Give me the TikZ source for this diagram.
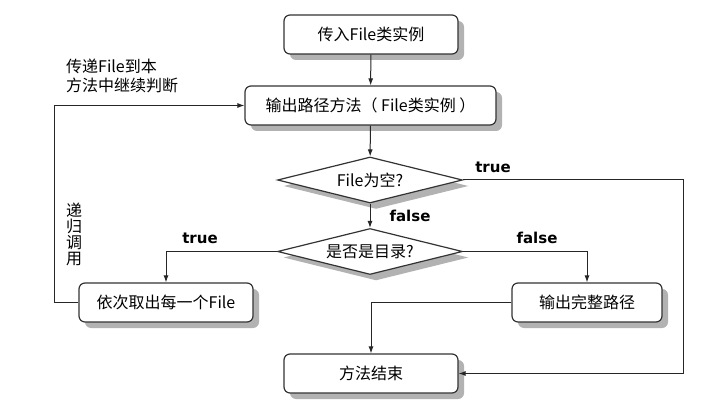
\documentclass[tikz,border=0pt]{standalone}
\usepackage{fontspec}
\setmainfont{Noto Sans CJK SC}
\newfontfamily\lblfont{DejaVu Sans}
\usetikzlibrary{shapes.geometric,shadows,arrows.meta}
\tikzset{
  shd/.style={drop shadow={shadow xshift=6pt,shadow yshift=-6pt,fill=black!30,opacity=1}},
  box/.style={draw=black!80,line width=1.2pt,rounded corners=6pt,fill=white,
    minimum height=39pt,inner sep=0pt,shd,font=\fontsize{16}{18}\selectfont},
  dec/.style={diamond,draw=black!80,line width=1.2pt,fill=white,aspect=4,inner sep=0pt,
    minimum width=185pt,minimum height=46pt,shd,font=\fontsize{16}{18}\selectfont},
  conn/.style={draw=black!85,line width=1pt,-{Latex[length=7pt,width=5pt]}},
  lbl/.style={font=\lblfont\bfseries\fontsize{15}{15}\selectfont,inner sep=0pt},
  note/.style={font=\fontsize{16}{19}\selectfont,inner sep=0pt,align=left},
}
\begin{document}
\begin{tikzpicture}[x=1pt,y=-1pt]
\fill[white] (0,0) rectangle (711,419);
\useasboundingbox (0,0) rectangle (711,419);
\node[box,minimum width=174pt] (b1) at (371,34.5) {传入File类实例};
\node[box,minimum width=251pt] (b2) at (370.5,105.5) {输出路径方法（ File类实例 ）};
\node[dec] (d1) at (370,180) {File为空?};
\node[dec] (d2) at (370,251.5) {是否是目录?};
\node[box,minimum width=174pt] (b3) at (166,302.5) {依次取出每一个File};
\node[box,minimum width=150pt] (b4) at (587,302.5) {输出完整路径};
\node[box,minimum width=174pt] (end) at (371,373.5) {方法结束};
\coordinate (rc) at (683,180);
\coordinate (lc) at (54,302.5);
\draw[conn] (b1) -- (b2);
\draw[conn] (b2) -- (d1);
\draw[conn] (d1) -- (d2);
\draw[conn] (d1.east) -- (rc) |- (end.east);
\draw[conn] (d2.west) -| (b3.north);
\draw[conn] (d2.east) -| (b4.north);
\draw[conn] (b4.west) -| (end.north);
\draw[conn] (b3.west) -- (lc) |- (b2.west);
\node[lbl] (t1) at (493,167) {true};
\node[lbl] (f1) at (410,216) {false};
\node[lbl] (t2) at (200,238) {true};
\node[lbl] (f2) at (537,238) {false};
\node[note,anchor=north west] (n1) at (66,59) {传递File到本\\方法中继续判断};
\node[note,align=center,anchor=north,font=\fontsize{16}{16}\selectfont] (n2) at (74,203) {递\\归\\调\\用};
\end{tikzpicture}
\end{document}
